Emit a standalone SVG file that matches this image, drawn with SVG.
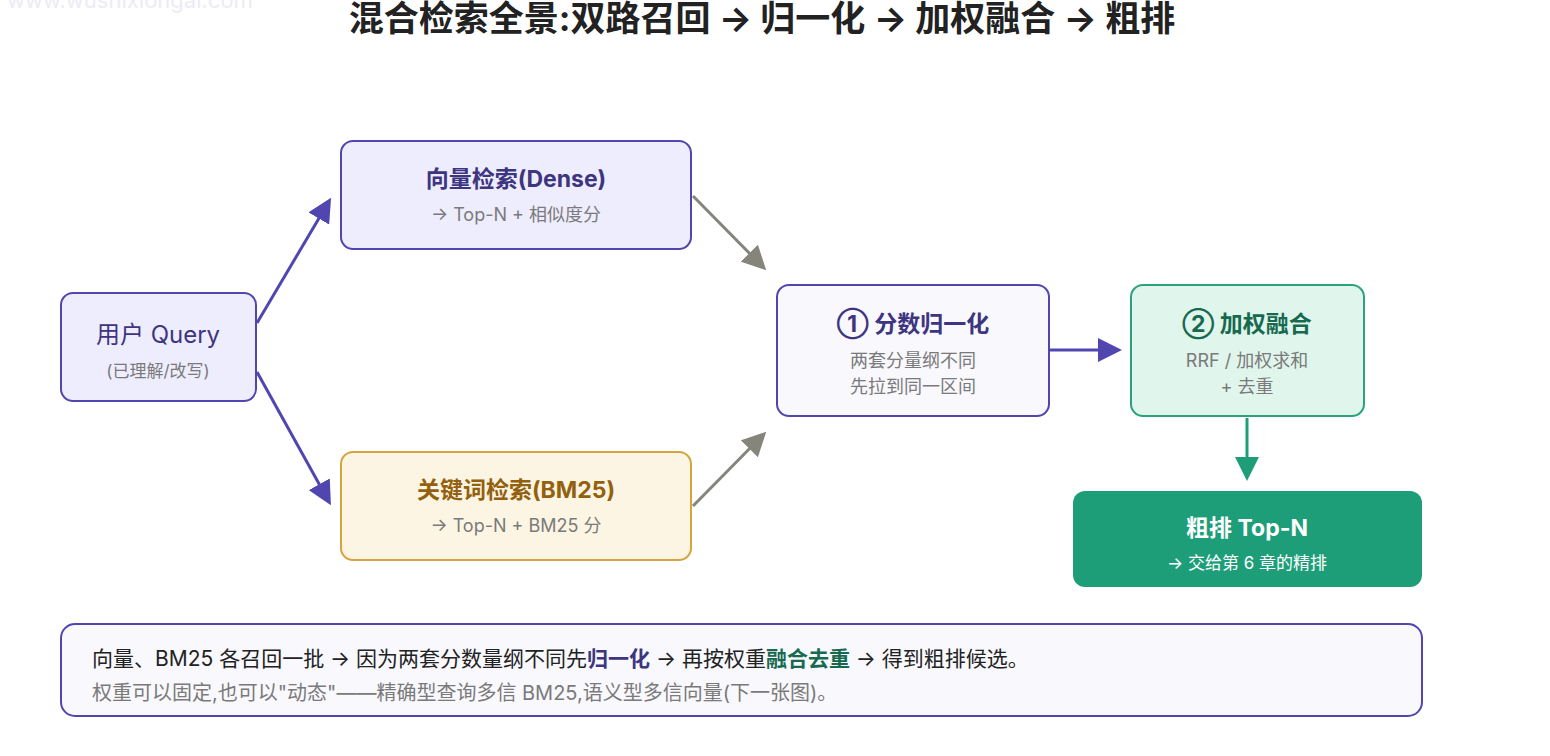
<svg xmlns="http://www.w3.org/2000/svg" width="1550" height="756" viewBox="0 0 1550 756">
<style>
text{font-family:Inter,"Noto Sans CJK SC",sans-serif;text-anchor:middle}
.t{font-weight:bold;font-size:23px}
.s{font-size:18px;fill:#7a7a7a}
.c{stroke-width:3;fill:none}
</style>
<defs>
<marker id="ap" markerWidth="8" markerHeight="8" refX="6" refY="4" orient="auto" markerUnits="strokeWidth"><path d="M0,0L8,4L0,8z" fill="#5146b0"/></marker>
<marker id="ag" markerWidth="8" markerHeight="8" refX="6" refY="4" orient="auto" markerUnits="strokeWidth"><path d="M0,0L8,4L0,8z" fill="#85857c"/></marker>
<marker id="an" markerWidth="8" markerHeight="8" refX="6" refY="4" orient="auto" markerUnits="strokeWidth"><path d="M0,0L8,4L0,8z" fill="#1e9e78"/></marker>
</defs>
<rect width="1550" height="756" fill="#fff"/>
<text x="130" y="8" style="font-size:22px;fill:#ecebf5">www.wushixiongai.com</text>
<text x="762" y="31" style="font-size:35px;font-weight:bold;fill:#222">混合检索全景:双路召回 → 归一化 → 加权融合 → 粗排</text>
<g id="connectors">
<path class="c" stroke="#5146b0" d="M257,323L328,203" marker-end="url(#ap)"/>
<path class="c" stroke="#5146b0" d="M257,372L328,500" marker-end="url(#ap)"/>
<path class="c" stroke="#85857c" d="M693,196L762,266" marker-end="url(#ag)"/>
<path class="c" stroke="#85857c" d="M693,506L762,436" marker-end="url(#ag)"/>
<path class="c" stroke="#5146b0" d="M1050,350L1116,350" marker-end="url(#ap)"/>
<path class="c" stroke="#1e9e78" d="M1247,418L1247,475" marker-end="url(#an)"/>
</g>
<g id="query"><rect x="61" y="293" width="195" height="108" rx="12" fill="#eeedfd" stroke="#5146b0" stroke-width="2"/>
<text x="158" y="343" style="font-size:24px;fill:#3d357f">用户 Query</text><text x="158" y="377" class="s" style="font-size:17px">(已理解/改写)</text></g>
<g id="dense"><rect x="341" y="141" width="350" height="108" rx="12" fill="#eeedfd" stroke="#5146b0" stroke-width="2"/>
<text x="516" y="187" class="t" fill="#3d357f">向量检索(Dense)</text><text x="516" y="221" class="s">→ Top-N + 相似度分</text></g>
<g id="bm25"><rect x="341" y="452" width="350" height="108" rx="12" fill="#fdf5e3" stroke="#d5a43f" stroke-width="2"/>
<text x="516" y="498" class="t" fill="#92600e">关键词检索(BM25)</text><text x="516" y="532" class="s">→ Top-N + BM25 分</text></g>
<g id="norm"><rect x="777" y="285" width="272" height="131" rx="12" fill="#f8f8fd" stroke="#5146b0" stroke-width="2"/>
<text x="913" y="332" class="t" fill="#3d357f">① 分数归一化</text><text x="913" y="367" class="s">两套分量纲不同</text><text x="913" y="393" class="s">先拉到同一区间</text></g>
<g id="fuse"><rect x="1131" y="285" width="233" height="131" rx="12" fill="#e0f5ec" stroke="#2aa37c" stroke-width="2"/>
<text x="1247" y="332" class="t" fill="#17694f">② 加权融合</text><text x="1247" y="367" class="s">RRF / 加权求和</text><text x="1247" y="393" class="s">+ 去重</text></g>
<g id="rank"><rect x="1073" y="491" width="349" height="96" rx="12" fill="#1e9e78"/>
<text x="1247" y="536" class="t" fill="#fff">粗排 Top-N</text><text x="1247" y="569" style="font-size:17px;fill:#fff">→ 交给第 6 章的精排</text></g>
<g id="note"><rect x="61" y="624" width="1361" height="92" rx="14" fill="#f8f8fd" stroke="#5146b0" stroke-width="2"/>
<text x="92" y="666" style="font-size:21px;fill:#222;text-anchor:start">向量、BM25 各召回一批 → 因为两套分数量纲不同先<tspan font-weight="bold" fill="#3d357f">归一化</tspan> → 再按权重<tspan font-weight="bold" fill="#17694f">融合去重</tspan> → 得到粗排候选。</text>
<text x="92" y="700" style="font-size:20px;fill:#7a7a7a;text-anchor:start">权重可以固定,也可以"动态"——精确型查询多信 BM25,语义型多信向量(下一张图)。</text></g>
</svg>
